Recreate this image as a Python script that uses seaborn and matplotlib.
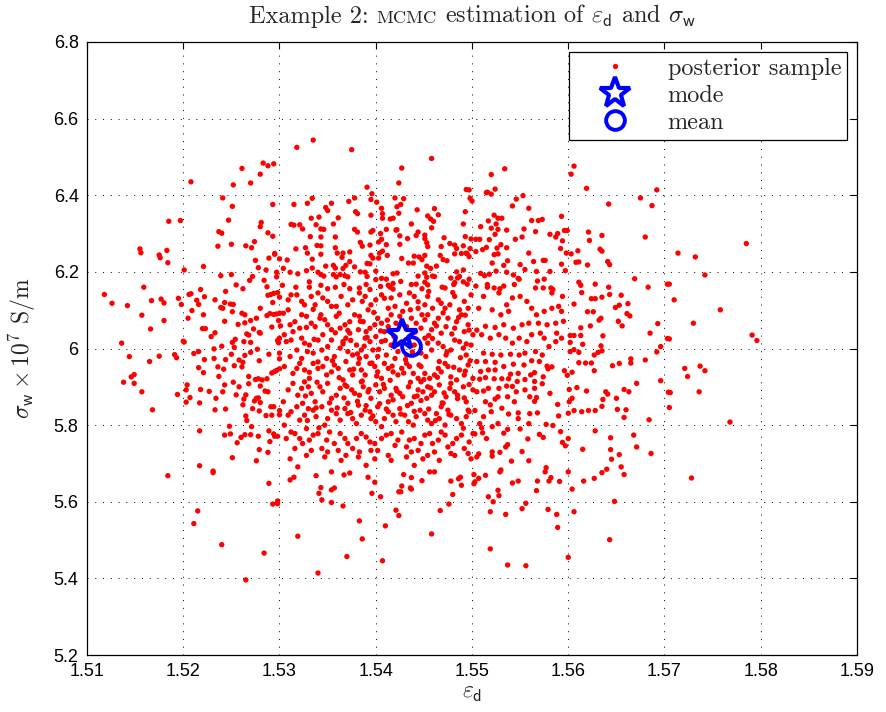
import numpy as np
import pandas as pd
import matplotlib
matplotlib.use("Agg")
import matplotlib.pyplot as plt
import seaborn as sns
from matplotlib.lines import Line2D

# ---------------- data (eps_d, sigma_w) ----------------
pts_upper_left = [
(1.5208,6.435),(1.5261,6.470),(1.5283,6.484),(1.5288,6.477),(1.5294,6.482),(1.5280,6.455),
(1.5252,6.427),(1.5270,6.432),(1.5241,6.393),(1.5251,6.371),(1.5293,6.376),(1.5185,6.332),
(1.5197,6.334),(1.5247,6.335),(1.5281,6.329),(1.5280,6.318),(1.5237,6.305),(1.5240,6.301),
(1.5288,6.302),(1.5293,6.293),(1.5155,6.260),(1.5156,6.250),(1.5183,6.256),(1.5175,6.244),
(1.5176,6.237),(1.5184,6.224),(1.5236,6.267),(1.5250,6.272),(1.5265,6.268),(1.5271,6.263),
(1.5274,6.279),(1.5295,6.248),(1.5295,6.246),(1.5289,6.236),(1.5300,6.234),(1.5275,6.230),
(1.5278,6.211),(1.5286,6.205),(1.5297,6.199),(1.5297,6.187),(1.5284,6.178),(1.5269,6.178),
(1.5272,6.188),(1.5250,6.193),(1.5239,6.190),(1.5221,6.214),(1.5201,6.205),(1.5159,6.160),
(1.5255,6.166),(1.5287,6.161),(1.5218,6.154),(1.5262,6.156),
]
pts_upper_mid = [
(1.5318,6.525),(1.5335,6.544),(1.5375,6.519),(1.5458,6.496),(1.5427,6.471),(1.5424,6.432),
(1.5391,6.421),(1.5396,6.404),(1.5494,6.415),(1.5497,6.414),(1.5315,6.376),(1.5329,6.379),
(1.5334,6.392),(1.5354,6.379),(1.5348,6.368),(1.5350,6.360),(1.5372,6.384),(1.5378,6.393),
(1.5395,6.389),(1.5401,6.382),(1.5420,6.393),(1.5429,6.391),(1.5426,6.376),(1.5422,6.370),
(1.5406,6.366),(1.5461,6.365),(1.5443,6.362),(1.5498,6.392),(1.5500,6.385),(1.5493,6.357),
(1.5379,6.357),(1.5381,6.352),(1.5395,6.348),(1.5407,6.352),(1.5407,6.340),(1.5415,6.338),
(1.5418,6.340),(1.5424,6.353),(1.5333,6.340),(1.5341,6.343),(1.5361,6.341),(1.5454,6.346),
(1.5457,6.338),(1.5460,6.332),(1.5465,6.349),(1.5312,6.324),(1.5315,6.322),(1.5321,6.323),
(1.5324,6.312),(1.5338,6.323),(1.5343,6.312),(1.5346,6.311),(1.5356,6.325),(1.5378,6.311),
(1.5381,6.304),(1.5395,6.304),(1.5397,6.308),(1.5405,6.300),(1.5411,6.311),(1.5421,6.309),
(1.5422,6.310),(1.5437,6.325),(1.5458,6.315),(1.5444,6.304),(1.5451,6.296),(1.5491,6.325),
(1.5332,6.292),(1.5343,6.291),(1.5358,6.291),(1.5406,6.285),(1.5425,6.294),(1.5433,6.287),
(1.5442,6.295),(1.5451,6.287),(1.5471,6.289),(1.5493,6.292),(1.5499,6.286),(1.5384,6.277),
(1.5386,6.267),(1.5394,6.270),(1.5403,6.278),(1.5411,6.271),(1.5425,6.272),(1.5453,6.276),
(1.5454,6.266),(1.5468,6.266),(1.5477,6.274),(1.5482,6.270),(1.5484,6.261),(1.5491,6.268),
(1.5494,6.249),(1.5498,6.261),(1.5317,6.260),(1.5327,6.263),(1.5329,6.249),(1.5339,6.269),
(1.5343,6.268),(1.5343,6.246),(1.5358,6.263),(1.5360,6.249),(1.5366,6.249),(1.5365,6.238),
(1.5373,6.252),(1.5373,6.227),(1.5378,6.213),(1.5369,6.217),(1.5334,6.233),(1.5308,6.231),
(1.5304,6.209),(1.5311,6.199),(1.5319,6.195),(1.5328,6.203),(1.5334,6.210),(1.5348,6.215),
(1.5356,6.217),(1.5358,6.210),(1.5366,6.209),(1.5384,6.200),(1.5391,6.222),(1.5394,6.221),
(1.5395,6.243),(1.5397,6.236),(1.5403,6.236),(1.5404,6.249),(1.5407,6.254),(1.5412,6.243),
(1.5427,6.235),(1.5434,6.223),(1.5439,6.223),(1.5440,6.241),(1.5445,6.239),(1.5451,6.243),
(1.5448,6.232),(1.5453,6.215),(1.5457,6.209),(1.5463,6.215),(1.5467,6.243),(1.5470,6.232),
(1.5474,6.229),(1.5482,6.247),(1.5489,6.248),(1.5495,6.247),(1.5497,6.240),(1.5484,6.200),
(1.5491,6.205),(1.5303,6.165),(1.5317,6.160),(1.5331,6.174),(1.5331,6.160),(1.5340,6.199),
(1.5343,6.193),(1.5346,6.189),(1.5343,6.165),(1.5350,6.156),(1.5356,6.193),(1.5359,6.187),
(1.5363,6.193),(1.5368,6.190),(1.5371,6.187),(1.5358,6.160),(1.5367,6.167),(1.5373,6.156),
(1.5389,6.199),(1.5391,6.188),(1.5400,6.202),(1.5400,6.180),(1.5406,6.183),(1.5411,6.181),
(1.5418,6.195),(1.5422,6.197),(1.5413,6.165),(1.5415,6.160),(1.5418,6.170),(1.5426,6.175),
(1.5405,6.162),(1.5390,6.167),(1.5383,6.158),(1.5394,6.154),(1.5444,6.189),(1.5451,6.197),
(1.5453,6.186),(1.5459,6.189),(1.5461,6.188),(1.5442,6.168),(1.5451,6.173),(1.5454,6.166),
(1.5448,6.156),(1.5469,6.160),(1.5472,6.158),(1.5478,6.184),(1.5485,6.184),(1.5487,6.188),
(1.5482,6.172),(1.5481,6.167),(1.5491,6.174),(1.5495,6.168),(1.5497,6.181),
]
pts_upper_right = [
(1.5520,6.454),(1.5534,6.469),(1.5606,6.476),(1.5603,6.455),(1.5619,6.418),(1.5692,6.414),
(1.5675,6.393),(1.5687,6.373),(1.5642,6.377),(1.5515,6.407),(1.5516,6.408),(1.5520,6.403),
(1.5524,6.416),(1.5546,6.390),(1.5553,6.399),(1.5542,6.372),(1.5559,6.366),(1.5523,6.348),
(1.5527,6.340),(1.5531,6.340),(1.5517,6.333),(1.5509,6.318),(1.5520,6.314),(1.5525,6.325),
(1.5527,6.311),(1.5536,6.309),(1.5524,6.298),(1.5508,6.285),(1.5504,6.285),(1.5518,6.284),
(1.5530,6.271),(1.5515,6.264),(1.5511,6.258),(1.5526,6.262),(1.5536,6.263),(1.5504,6.253),
(1.5523,6.245),(1.5527,6.247),(1.5521,6.223),(1.5537,6.229),(1.5533,6.217),(1.5525,6.202),
(1.5509,6.196),(1.5513,6.190),(1.5518,6.194),(1.5536,6.199),(1.5543,6.192),(1.5548,6.183),
(1.5555,6.206),(1.5550,6.219),(1.5559,6.249),(1.5552,6.291),(1.5554,6.312),(1.5545,6.285),
(1.5562,6.334),(1.5569,6.334),(1.5573,6.337),(1.5566,6.305),(1.5581,6.298),(1.5589,6.300),
(1.5587,6.291),(1.5593,6.345),(1.5596,6.308),(1.5599,6.308),(1.5594,6.281),(1.5592,6.261),
(1.5598,6.249),(1.5603,6.247),(1.5610,6.255),(1.5621,6.304),(1.5622,6.282),(1.5635,6.295),
(1.5633,6.259),(1.5635,6.254),(1.5608,6.225),(1.5611,6.226),(1.5620,6.218),(1.5641,6.227),
(1.5643,6.219),(1.5680,6.291),(1.5593,6.220),(1.5597,6.203),(1.5581,6.201),(1.5574,6.230),
(1.5576,6.230),(1.5564,6.227),(1.5567,6.201),(1.5575,6.181),(1.5568,6.176),(1.5544,6.167),
(1.5549,6.181),(1.5611,6.173),(1.5613,6.165),(1.5628,6.168),(1.5642,6.160),(1.5669,6.182),
(1.5683,6.160),(1.5703,6.168),(1.5516,6.167),(1.5516,6.160),(1.5523,6.158),(1.5529,6.156),
(1.5533,6.163),(1.5504,6.163),(1.5566,6.158),(1.5574,6.158),(1.5582,6.158),(1.5584,6.154),
]
pts_far_right = [
(1.5785,6.274),(1.5714,6.249),(1.5732,6.239),(1.5742,6.192),(1.5705,6.168),
(1.5710,6.127),(1.5758,6.101),(1.5730,6.066),(1.5705,6.025),(1.5791,6.035),(1.5796,6.021),
(1.5721,5.948),(1.5737,5.954),(1.5742,5.942),(1.5724,5.927),(1.5706,5.885),(1.5736,5.887),
(1.5705,5.846),(1.5768,5.808),(1.5728,5.662),
]
pts_mid_left = [
(1.5118,6.141),(1.5126,6.118),(1.5142,6.112),(1.5157,6.087),(1.5167,6.125),(1.5177,6.129),
(1.5180,6.119),(1.5180,6.073),(1.5166,6.051),(1.5136,6.014),(1.5144,5.979),(1.5165,5.966),
(1.5175,5.980),(1.5191,5.984),(1.5193,5.976),(1.5146,5.926),(1.5149,5.932),(1.5138,5.912),
(1.5149,5.909),(1.5157,5.887),(1.5168,5.840),(1.5194,5.880),(1.5195,6.131),(1.5198,6.115),
(1.5200,6.019),(1.5201,6.017),(1.5205,6.079),(1.5209,6.099),(1.5206,6.141),(1.5208,6.143),
(1.5214,6.126),(1.5216,6.115),(1.5222,6.135),(1.5221,6.088),(1.5220,6.052),(1.5223,6.052),
(1.5233,6.127),(1.5239,6.107),(1.5241,6.105),(1.5243,6.120),(1.5244,6.149),(1.5249,6.116),
(1.5252,6.115),(1.5251,6.096),(1.5243,6.071),(1.5233,6.041),(1.5229,6.031),(1.5211,5.987),
(1.5216,5.992),(1.5222,5.971),(1.5216,5.950),(1.5221,5.937),(1.5232,5.999),(1.5232,5.974),
(1.5240,6.006),(1.5244,5.971),(1.5242,5.946),(1.5236,5.952),(1.5237,5.927),(1.5250,5.985),
(1.5253,6.003),(1.5251,6.016),(1.5254,6.024),(1.5257,6.063),(1.5261,6.092),(1.5264,6.088),
(1.5264,6.067),(1.5270,6.073),(1.5276,6.079),(1.5280,6.105),(1.5266,6.038),(1.5268,6.035),
(1.5273,6.051),(1.5279,6.042),(1.5280,6.040),(1.5263,6.018),(1.5270,6.016),(1.5270,5.990),
(1.5277,5.998),(1.5279,5.968),(1.5264,5.982),(1.5258,5.970),(1.5262,5.964),(1.5253,5.955),
(1.5261,5.952),(1.5268,5.927),(1.5252,5.912),(1.5258,5.900),(1.5268,5.908),(1.5275,5.919),
(1.5278,5.921),(1.5282,5.918),(1.5280,5.902),(1.5287,5.921),(1.5285,5.889),(1.5289,5.985),
(1.5292,5.936),(1.5295,5.940),(1.5292,6.056),(1.5290,6.091),(1.5287,6.086),(1.5288,6.139),
(1.5291,6.141),(1.5294,6.144),(1.5298,6.146),(1.5293,6.120),(1.5300,6.134),(1.5294,6.089),
(1.5297,6.090),(1.5300,6.092),(1.5299,6.073),(1.5301,6.059),(1.5300,6.027),(1.5299,6.015),
(1.5298,6.021),(1.5300,5.988),(1.5300,5.973),(1.5297,5.943),(1.5300,5.947),(1.5255,5.879),
(1.5263,5.868),(1.5262,5.853),(1.5265,5.879),(1.5274,5.863),(1.5276,5.870),(1.5278,5.871),
(1.5280,5.859),(1.5272,5.843),(1.5279,5.837),(1.5288,5.887),(1.5291,5.848),(1.5294,5.848),
(1.5286,5.825),(1.5292,5.826),(1.5300,5.838),(1.5300,5.827),(1.5265,5.824),(1.5266,5.812),
(1.5271,5.796),(1.5234,5.870),(1.5233,5.840),(1.5244,5.842),(1.5241,5.887),(1.5243,5.905),
(1.5227,5.888),(1.5218,5.893),(1.5217,5.858),(1.5207,5.872),(1.5203,5.860),(1.5203,5.892),
(1.5204,5.905),(1.5248,5.797),(1.5243,5.774),(1.5249,5.777),(1.5217,5.785),(1.5256,5.754),
(1.5260,5.768),(1.5264,5.775),(1.5270,5.775),(1.5278,5.771),(1.5289,5.785),(1.5294,5.777),
(1.5295,5.771),(1.5298,5.771),(1.5290,5.757),(1.5279,5.736),(1.5288,5.729),(1.5251,5.715),
(1.5276,5.707),(1.5217,5.694),(1.5231,5.680),
]
pts_mid_right = [
(1.5624,6.130),(1.5628,6.130),(1.5635,6.134),(1.5643,6.141),(1.5655,6.139),(1.5649,6.107),
(1.5653,6.113),(1.5662,6.117),(1.5661,6.091),(1.5664,6.085),(1.5652,6.071),(1.5656,6.059),
(1.5693,6.065),(1.5685,6.040),(1.5703,6.026),(1.5696,6.005),(1.5692,5.991),(1.5680,5.970),
(1.5665,5.973),(1.5665,5.962),(1.5653,5.961),(1.5646,5.955),(1.5671,5.909),(1.5696,5.916),
(1.5704,5.886),(1.5658,5.893),(1.5663,5.887),(1.5639,5.887),(1.5641,5.881),(1.5650,5.870),
(1.5636,5.867),(1.5651,5.841),(1.5660,5.840),(1.5635,5.849),(1.5628,5.838),(1.5621,5.838),
(1.5614,5.835),(1.5606,5.838),(1.5600,5.831),(1.5684,5.814),(1.5658,5.820),(1.5628,5.785),
(1.5644,5.767),(1.5668,5.774),(1.5671,5.743),(1.5615,5.737),(1.5644,5.736),(1.5653,5.723),
(1.5686,5.726),(1.5645,5.711),(1.5655,5.691),(1.5640,5.685),(1.5601,5.893),(1.5609,5.898),
(1.5619,5.889),(1.5604,5.870),(1.5601,5.861),(1.5627,5.942),(1.5624,5.962),(1.5618,5.962),
(1.5611,5.963),(1.5604,5.938),(1.5596,5.942),(1.5599,5.930),(1.5602,5.992),(1.5606,5.997),
(1.5611,5.990),(1.5615,6.011),(1.5627,5.983),(1.5631,5.990),(1.5635,5.994),(1.5634,6.007),
(1.5623,6.059),(1.5636,6.033),(1.5634,6.079),(1.5632,6.074),(1.5620,6.096),(1.5626,6.096),
(1.5613,6.054),(1.5602,6.034),(1.5606,6.034),(1.5602,6.016),(1.5613,6.034),(1.5614,6.146),
(1.5606,6.116),(1.5600,5.765),(1.5594,5.755),(1.5597,5.746),(1.5590,5.824),(1.5592,5.783),
(1.5584,5.799),(1.5577,5.802),(1.5574,5.768),(1.5570,5.776),(1.5558,5.764),(1.5559,5.707),
(1.5552,5.731),(1.5541,5.706),(1.5530,5.683),(1.5577,5.689),(1.5548,5.817),(1.5560,5.830),
(1.5568,5.832),(1.5589,5.854),(1.5581,5.883),(1.5567,5.872),(1.5565,5.862),(1.5560,5.874),
(1.5559,5.804),(1.5550,5.790),(1.5537,5.789),(1.5533,5.779),(1.5527,5.804),(1.5521,5.796),
(1.5510,5.793),(1.5508,5.804),(1.5511,5.780),(1.5503,5.777),(1.5515,5.765),(1.5535,5.743),
(1.5537,5.749),(1.5529,5.729),(1.5521,5.730),(1.5521,5.719),(1.5507,5.725),(1.5505,5.717),
(1.5548,5.832),(1.5538,5.829),(1.5531,5.844),(1.5520,5.835),(1.5512,5.822),(1.5503,5.838),
(1.5519,5.853),(1.5514,5.861),(1.5524,5.868),(1.5527,5.874),(1.5537,5.874),(1.5544,5.861),
(1.5546,5.887),(1.5555,5.892),(1.5565,5.896),(1.5565,5.914),(1.5573,5.908),(1.5574,5.926),
(1.5578,5.954),(1.5583,5.952),(1.5579,5.947),(1.5565,5.937),(1.5561,5.931),(1.5555,5.919),
(1.5547,5.914),(1.5542,5.901),(1.5536,5.902),(1.5528,5.896),(1.5517,5.896),(1.5512,5.889),
(1.5505,5.887),(1.5508,5.920),(1.5514,5.924),(1.5523,5.921),(1.5531,5.921),(1.5538,5.921),
(1.5540,5.933),(1.5548,5.935),(1.5524,5.944),(1.5517,5.944),(1.5509,5.940),(1.5533,5.953),
(1.5543,5.959),(1.5554,5.957),(1.5562,5.968),(1.5570,5.966),(1.5573,5.983),(1.5566,5.992),
(1.5555,5.988),(1.5549,5.983),(1.5540,5.985),(1.5530,5.983),(1.5521,5.985),(1.5512,5.988),
(1.5505,5.966),(1.5514,5.966),(1.5524,5.964),(1.5580,6.005),(1.5587,6.018),(1.5593,6.027),
(1.5588,6.040),(1.5575,6.027),(1.5571,6.040),(1.5562,6.036),(1.5557,6.018),(1.5549,6.027),
(1.5542,6.014),(1.5535,6.027),(1.5528,6.036),(1.5519,6.027),(1.5510,6.036),(1.5505,6.048),
(1.5514,6.058),(1.5524,6.055),(1.5533,6.062),(1.5543,6.053),(1.5552,6.062),(1.5559,6.066),
(1.5569,6.066),(1.5578,6.062),(1.5587,6.066),(1.5595,6.071),(1.5593,6.097),(1.5590,6.110),
(1.5594,6.136),(1.5583,6.105),(1.5575,6.097),(1.5567,6.088),(1.5562,6.105),(1.5557,6.123),
(1.5550,6.136),(1.5542,6.132),(1.5536,6.114),(1.5538,6.097),(1.5530,6.088),(1.5521,6.101),
(1.5512,6.136),(1.5507,6.105),(1.5528,6.145),(1.5583,6.145),
]
pts_lower = [
(1.5184,5.668),(1.5231,5.676),(1.5289,5.648),(1.5298,5.602),(1.5293,5.594),(1.5298,5.595),
(1.5215,5.576),(1.5211,5.543),(1.5240,5.488),(1.5284,5.466),(1.5265,5.396),
(1.5311,5.657),(1.5315,5.664),(1.5338,5.668),(1.5354,5.678),(1.5367,5.670),(1.5373,5.675),
(1.5392,5.664),(1.5399,5.651),(1.5343,5.637),(1.5341,5.622),(1.5354,5.631),(1.5357,5.636),
(1.5344,5.605),(1.5354,5.598),(1.5366,5.589),(1.5396,5.622),(1.5405,5.613),(1.5383,5.550),
(1.5386,5.503),(1.5410,5.537),(1.5421,5.578),(1.5424,5.564),(1.5319,5.510),(1.5370,5.457),
(1.5340,5.414),(1.5407,5.446),(1.5458,5.516),(1.5467,5.577),(1.5476,5.594),(1.5480,5.619),
(1.5429,5.671),(1.5437,5.663),(1.5448,5.655),(1.5427,5.641),(1.5424,5.626),(1.5426,5.626),
(1.5436,5.636),(1.5437,5.633),(1.5456,5.678),(1.5461,5.678),(1.5478,5.654),(1.5486,5.660),
(1.5488,5.664),(1.5489,5.643),(1.5502,5.647),(1.5502,5.671),
(1.5503,5.652),(1.5507,5.661),(1.5514,5.669),(1.5529,5.678),(1.5542,5.649),(1.5548,5.654),
(1.5568,5.654),(1.5576,5.678),(1.5580,5.654),(1.5582,5.663),(1.5591,5.653),(1.5600,5.678),
(1.5616,5.654),(1.5627,5.661),(1.5635,5.676),(1.5658,5.671),(1.5604,5.633),(1.5567,5.629),
(1.5527,5.630),(1.5528,5.616),(1.5517,5.613),(1.5522,5.600),(1.5556,5.596),(1.5552,5.582),
(1.5519,5.574),(1.5535,5.567),(1.5579,5.580),(1.5588,5.567),(1.5589,5.533),(1.5606,5.574),
(1.5648,5.601),(1.5643,5.501),(1.5519,5.477),(1.5537,5.435),(1.5556,5.433),(1.5600,5.455),
]
pts_core_a = [
(1.5309,6.127),(1.5318,6.140),(1.5326,6.114),(1.5333,6.136),(1.5337,6.114),(1.5345,6.132),
(1.5354,6.110),(1.5364,6.136),(1.5371,6.114),(1.5376,6.127),(1.5389,6.136),(1.5395,6.114),
(1.5406,6.140),(1.5416,6.132),(1.5425,6.140),(1.5420,6.110),(1.5432,6.118),(1.5440,6.136),
(1.5451,6.114),(1.5454,6.136),(1.5465,6.127),(1.5472,6.105),(1.5482,6.136),(1.5492,6.123),
(1.5499,6.140),(1.5309,6.101),(1.5323,6.088),(1.5304,6.092),
(1.5316,6.070),(1.5328,6.084),(1.5337,6.057),(1.5347,6.075),(1.5354,6.049),(1.5359,6.084),
(1.5368,6.062),(1.5378,6.088),(1.5387,6.070),(1.5394,6.053),(1.5402,6.079),(1.5409,6.044),
(1.5416,6.088),(1.5421,6.066),(1.5437,6.079),(1.5447,6.053),(1.5454,6.088),(1.5461,6.066),
(1.5468,6.040),(1.5475,6.079),(1.5482,6.053),(1.5489,6.088),(1.5496,6.062),(1.5501,6.036),
(1.5305,6.036),(1.5314,6.044),(1.5345,6.036),(1.5373,6.040),(1.5382,6.049),
(1.5307,6.018),(1.5318,5.996),(1.5326,6.014),(1.5335,5.988),(1.5340,6.022),(1.5350,6.005),
(1.5357,5.979),(1.5366,6.018),(1.5371,5.992),(1.5380,6.009),(1.5389,6.027),(1.5397,5.996),
(1.5406,6.018),(1.5411,5.983),(1.5420,5.974),(1.5440,6.009),(1.5451,6.027),(1.5458,5.996),
(1.5465,6.014),(1.5473,5.983),(1.5482,6.022),(1.5491,6.001),(1.5499,6.009),(1.5323,5.974),
(1.5349,5.974),(1.5390,5.979),(1.5383,5.974),
(1.5305,5.953),(1.5314,5.935),(1.5321,5.961),(1.5331,5.922),(1.5340,5.948),(1.5349,5.931),
(1.5357,5.957),(1.5366,5.918),(1.5373,5.944),(1.5382,5.961),(1.5389,5.931),(1.5399,5.953),
(1.5406,5.922),(1.5413,5.948),(1.5423,5.931),(1.5432,5.961),(1.5439,5.935),(1.5447,5.953),
(1.5456,5.922),(1.5465,5.948),(1.5472,5.961),(1.5478,5.926),(1.5487,5.944),(1.5496,5.957),
(1.5501,5.922),(1.5326,5.913),(1.5385,5.913),(1.5447,5.913),
(1.5309,5.892),(1.5319,5.878),(1.5330,5.900),(1.5337,5.861),(1.5345,5.887),(1.5354,5.870),
(1.5363,5.896),(1.5371,5.857),(1.5378,5.883),(1.5387,5.900),(1.5395,5.870),(1.5404,5.887),
(1.5413,5.861),(1.5421,5.896),(1.5428,5.874),(1.5437,5.857),(1.5444,5.892),(1.5453,5.870),
(1.5461,5.887),(1.5470,5.857),(1.5477,5.896),(1.5485,5.878),(1.5494,5.861),(1.5501,5.892),
(1.5304,5.861),(1.5324,5.857),(1.5382,5.852),(1.5454,5.900),
(1.5312,5.835),(1.5321,5.813),(1.5330,5.843),(1.5338,5.822),(1.5347,5.800),(1.5354,5.839),
(1.5363,5.813),(1.5371,5.830),(1.5380,5.804),(1.5389,5.839),(1.5395,5.817),(1.5406,5.796),
(1.5413,5.835),(1.5421,5.809),(1.5430,5.826),(1.5439,5.800),(1.5446,5.839),(1.5454,5.813),
(1.5463,5.830),(1.5472,5.800),(1.5478,5.826),(1.5489,5.804),(1.5497,5.835),(1.5305,5.800),
(1.5344,5.848),(1.5402,5.848),(1.5468,5.848),
(1.5307,5.765),(1.5316,5.778),(1.5324,5.752),(1.5335,5.774),(1.5344,5.739),(1.5352,5.782),
(1.5357,5.752),(1.5368,5.765),(1.5376,5.739),(1.5385,5.778),(1.5394,5.756),(1.5402,5.734),
(1.5411,5.774),(1.5420,5.747),(1.5427,5.782),(1.5435,5.761),(1.5444,5.734),(1.5451,5.774),
(1.5459,5.752),(1.5468,5.782),(1.5475,5.743),(1.5484,5.765),(1.5492,5.739),(1.5501,5.778),
(1.5328,5.791),(1.5383,5.730),(1.5461,5.730),
(1.5311,5.712),(1.5319,5.691),(1.5328,5.721),(1.5347,5.717),(1.5364,5.708),(1.5382,5.717),
(1.5399,5.712),(1.5416,5.708),(1.5432,5.717),(1.5440,5.695),(1.5449,5.712),(1.5466,5.708),
(1.5482,5.721),(1.5499,5.712),(1.5390,5.695),
]
pts_core_b = [
(1.5312,6.140),(1.5323,6.123),(1.5340,6.145),(1.5350,6.123),(1.5359,6.110),(1.5383,6.145),
(1.5392,6.101),(1.5400,6.127),(1.5413,6.105),(1.5428,6.097),(1.5435,6.145),(1.5444,6.105),
(1.5459,6.105),(1.5477,6.114),(1.5487,6.101),(1.5496,6.105),
(1.5311,6.062),(1.5321,6.053),(1.5333,6.066),(1.5342,6.079),(1.5350,6.062),(1.5363,6.053),
(1.5373,6.070),(1.5383,6.084),(1.5390,6.044),(1.5399,6.062),(1.5406,6.066),(1.5413,6.057),
(1.5425,6.084),(1.5432,6.057),(1.5442,6.066),(1.5451,6.075),(1.5458,6.049),(1.5465,6.079),
(1.5473,6.057),(1.5484,6.070),(1.5492,6.044),
(1.5312,6.022),(1.5323,6.027),(1.5331,6.009),(1.5344,5.996),(1.5354,6.022),(1.5363,6.001),
(1.5369,6.027),(1.5376,5.983),(1.5385,5.996),(1.5394,6.018),(1.5400,6.031),(1.5402,5.979),
(1.5416,6.009),(1.5423,5.992),(1.5432,5.983),(1.5447,5.988),(1.5454,6.014),(1.5470,6.005),
(1.5478,5.996),(1.5487,6.018),(1.5494,5.983),
(1.5311,5.979),(1.5318,5.948),(1.5326,5.944),(1.5335,5.961),(1.5345,5.953),(1.5354,5.939),
(1.5361,5.948),(1.5369,5.966),(1.5376,5.931),(1.5385,5.944),(1.5394,5.961),(1.5402,5.939),
(1.5409,5.961),(1.5418,5.939),(1.5427,5.948),(1.5435,5.953),(1.5444,5.922),(1.5451,5.935),
(1.5461,5.931),(1.5468,5.939),(1.5475,5.953),(1.5484,5.918),(1.5492,5.931),
(1.5314,5.909),(1.5323,5.896),(1.5333,5.883),(1.5342,5.900),(1.5350,5.909),(1.5359,5.878),
(1.5368,5.905),(1.5375,5.892),(1.5383,5.878),(1.5392,5.887),(1.5400,5.905),(1.5409,5.896),
(1.5416,5.878),(1.5425,5.883),(1.5434,5.900),(1.5440,5.874),(1.5449,5.887),(1.5458,5.878),
(1.5466,5.905),(1.5473,5.874),(1.5482,5.887),(1.5491,5.900),
(1.5309,5.826),(1.5318,5.848),(1.5326,5.826),(1.5335,5.839),(1.5350,5.817),(1.5359,5.830),
(1.5368,5.843),(1.5376,5.817),(1.5385,5.826),(1.5394,5.835),(1.5400,5.809),(1.5409,5.817),
(1.5418,5.826),(1.5425,5.843),(1.5434,5.809),(1.5442,5.822),(1.5451,5.830),(1.5458,5.804),
(1.5466,5.817),(1.5475,5.839),(1.5484,5.817),(1.5494,5.822),
(1.5312,5.782),(1.5321,5.765),(1.5331,5.761),(1.5340,5.778),(1.5349,5.761),(1.5363,5.778),
(1.5371,5.752),(1.5380,5.765),(1.5390,5.769),(1.5399,5.752),(1.5406,5.765),(1.5416,5.778),
(1.5423,5.761),(1.5432,5.743),(1.5440,5.765),(1.5447,5.752),(1.5456,5.778),(1.5465,5.761),
(1.5472,5.774),(1.5480,5.752),(1.5489,5.774),(1.5497,5.756),
(1.5316,5.739),(1.5333,5.734),(1.5350,5.730),(1.5361,5.734),(1.5369,5.721),(1.5395,5.734),
(1.5413,5.721),(1.5437,5.730),(1.5454,5.721),(1.5478,5.726),(1.5496,5.726),
]
pts_core_c = [
(1.5362,6.092),(1.5371,6.047),(1.5384,6.071),(1.5391,6.029),(1.5398,6.094),(1.5405,6.046),
(1.5412,6.074),(1.5419,6.031),(1.5429,6.062),(1.5436,6.101),(1.5441,6.043),(1.5448,6.088),
(1.5455,6.034),(1.5463,6.059),(1.5470,6.093),(1.5479,6.038),(1.5486,6.081),(1.5358,6.041),
(1.5366,6.012),(1.5374,6.021),(1.5381,5.986),(1.5388,6.006),(1.5396,5.962),(1.5403,5.998),
(1.5410,6.021),(1.5417,5.954),(1.5424,6.012),(1.5431,5.971),(1.5438,5.991),(1.5445,5.957),
(1.5452,5.979),(1.5459,6.026),(1.5466,5.966),(1.5474,5.991),(1.5481,5.951),(1.5488,5.976),
(1.5355,5.968),(1.5362,5.924),(1.5370,5.901),(1.5377,5.946),(1.5386,5.915),(1.5393,5.893),
(1.5401,5.928),(1.5408,5.906),(1.5415,5.917),(1.5422,5.889),(1.5429,5.936),(1.5436,5.912),
(1.5443,5.876),(1.5450,5.919),(1.5457,5.897),(1.5464,5.925),(1.5471,5.884),(1.5478,5.909),
(1.5485,5.869),(1.5352,5.858),(1.5360,5.845),(1.5367,5.871),(1.5374,5.833),(1.5381,5.862),
(1.5390,5.851),(1.5397,5.824),(1.5404,5.856),(1.5411,5.842),(1.5418,5.866),(1.5426,5.829),
(1.5433,5.851),(1.5440,5.836),(1.5447,5.864),(1.5455,5.842),(1.5462,5.812),(1.5469,5.858),
(1.5476,5.828),(1.5335,6.102),(1.5343,6.088),(1.5328,6.055),(1.5336,6.024),(1.5329,5.992),
(1.5340,5.965),(1.5331,5.938),(1.5339,5.912),(1.5327,5.876),(1.5338,5.845),(1.5329,5.812),
(1.5341,5.793),(1.5493,6.087),(1.5497,6.048),(1.5494,6.012),(1.5498,5.968),(1.5493,5.941),
(1.5497,5.906),(1.5492,5.871),(1.5496,5.839),(1.5491,5.792),(1.5386,6.123),(1.5409,6.131),
(1.5444,6.122),(1.5468,6.118),(1.5418,6.155),(1.5437,6.167),(1.5455,6.149),(1.5480,6.146),
]
mode_pt = (1.5427, 6.034)
mean_pt = (1.5437, 6.007)

x_ticks = [1.51, 1.52, 1.53, 1.54, 1.55, 1.56, 1.57, 1.58, 1.59]
y_ticks = [5.2, 5.4, 5.6, 5.8, 6.0, 6.2, 6.4, 6.6, 6.8]
x_tick_labels = ["1.51", "1.52", "1.53", "1.54", "1.55", "1.56", "1.57", "1.58", "1.59"]
y_tick_labels = ["5.2", "5.4", "5.6", "5.8", "6", "6.2", "6.4", "6.6", "6.8"]
legend_labels = ["posterior sample", "mode", "mean"]

# ---------------- build ----------------
all_pts = (pts_upper_left + pts_upper_mid + pts_upper_right + pts_far_right +
           pts_mid_left + pts_mid_right + pts_lower + pts_core_a + pts_core_b + pts_core_c)
df = pd.DataFrame(all_pts, columns=["eps_d", "sigma_w"])

sns.set_theme(style="white")
plt.rcParams["font.family"] = ["Liberation Sans", "DejaVu Sans"]
plt.rcParams["mathtext.fontset"] = "cm"
SERIF = "cmr10"

fig = plt.figure(figsize=(8.86, 7.12), dpi=100)
ax = fig.add_axes([87/886, 1-655/712, (857-87)/886, (655-42)/712])

sns.scatterplot(data=df, x="eps_d", y="sigma_w", ax=ax, color="#ff0000",
                s=15, linewidth=0, edgecolor="none", legend=False, zorder=3)
ax.plot([mode_pt[0]], [mode_pt[1]], marker="*", ls="none", ms=23, mfc="none",
        mec="#0000ff", mew=3.0, zorder=4)
ax.plot([mean_pt[0]], [mean_pt[1]], marker="o", ls="none", ms=13.5, mfc="none",
        mec="#0000ff", mew=2.8, zorder=4)

ax.set_xlim(1.51, 1.59)
ax.set_ylim(5.2, 6.8)
ax.set_xticks(x_ticks)
ax.set_xticklabels(x_tick_labels)
ax.set_yticks(y_ticks)
ax.set_yticklabels(y_tick_labels)
ax.tick_params(direction="in", length=5, width=0.8, top=True, right=True,
               labelsize=13, colors="black", pad=6)
for sp in ax.spines.values():
    sp.set_color("black")
    sp.set_linewidth(0.9)
ax.grid(True, color="black", linestyle=(0, (1, 7)), linewidth=0.7)
ax.set_axisbelow(True)

ax.set_xlabel(r"$\varepsilon_{\mathsf{d}}$", fontsize=17, labelpad=1)
ax.set_ylabel(r"$\sigma_{\mathsf{w}}\times10^{7}$ S/m", fontsize=17, labelpad=11,
              family=SERIF)

# legend
handles = [
    Line2D([], [], marker="o", ls="none", ms=3.8, mfc="#ff0000", mec="none"),
    Line2D([], [], marker="*", ls="none", ms=23, mfc="none", mec="#0000ff", mew=3.0),
    Line2D([], [], marker="o", ls="none", ms=13.5, mfc="none", mec="#0000ff", mew=2.8),
]
leg = ax.legend(handles, legend_labels, loc="upper right",
                prop={"family": SERIF, "size": 17.5}, frameon=True,
                fancybox=False, framealpha=1, edgecolor="black", borderpad=0.25,
                labelspacing=0.2, handlelength=3.3, handletextpad=0.5,
                borderaxespad=0.4)
leg.get_frame().set_linewidth(0.9)

# title pieces (small caps MCMC)
fig.canvas.draw()
renderer = fig.canvas.get_renderer()
T = 17.5
pieces = [("Example 2:", T), ("MCMC", T*0.76),
          (r"estimation of $\varepsilon_{\mathsf{d}}$ and $\sigma_{\mathsf{w}}$", T)]
gap = 8
texts = []
widths = []
for s, fs in pieces:
    t = fig.text(0, 0, s, fontsize=fs, va="baseline", ha="left", family=SERIF)
    texts.append(t)
    widths.append(t.get_window_extent(renderer).width)
total = sum(widths) + gap*(len(widths)-1)
cx = (87+857)/2
x0 = cx - total/2
base_y = 712 - 23
for t, w in zip(texts, widths):
    t.set_position((x0/886, base_y/712))
    x0 += w + gap

fig.savefig("out.png", dpi=100)
